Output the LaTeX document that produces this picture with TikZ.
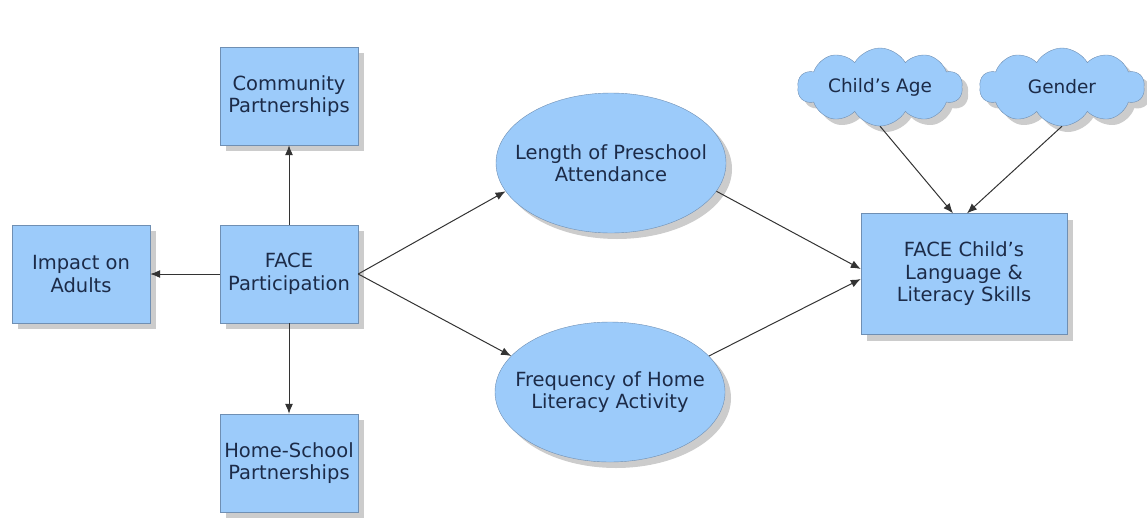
\documentclass[tikz,border=0pt]{standalone}
\usepackage{fontspec}
\setmainfont{DejaVu Sans}
\usetikzlibrary{positioning, arrows.meta, shadows}
\usetikzlibrary{shapes.geometric, shapes.symbols}

\definecolor{boxblue}{HTML}{9CCBFA}
\definecolor{boxedge}{HTML}{6F8FB3}
\definecolor{txtnavy}{HTML}{1C2B48}
\definecolor{linkgray}{HTML}{333333}

\tikzset{
  box/.style={rectangle, draw=boxedge, fill=boxblue, text=txtnavy, align=center,
    minimum width=138pt, minimum height=98pt, font=\fontsize{19.5}{22.5}\selectfont,
    drop shadow={shadow xshift=6pt, shadow yshift=-6pt, opacity=0.4}},
  oval/.style={box, ellipse, inner xsep=-30pt, inner ysep=0pt,
    minimum width=230pt, minimum height=140pt},
  puff/.style={box, cloud, cloud puffs=10, cloud puff arc=120, cloud ignores aspect,
    minimum width=165pt, minimum height=78pt, font=\fontsize{18.5}{22}\selectfont},
  link/.style={draw=linkgray, line width=1pt, -{Latex[length=10pt, width=8pt]}}
}

\begin{document}
\begin{tikzpicture}[x=1pt, y=-1pt]
                \useasboundingbox (0,0) rectangle (1147,520);

                \node[box] (comm) at (289, 96) {Community\\Partnerships};
                \node[box] (adult) at (81, 274) {Impact on\\Adults};
                \node[box] (part) at (289, 274) {FACE\\Participation};
                \node[box] (home) at (289, 463) {Home-School\\Partnerships};

                \node[oval] (len) at (611, 163) {Length of Preschool\\Attendance};
                \node[oval] (frq) at (610, 392) {Frequency of Home\\Literacy Activity};

                \node[box, minimum width=206pt, minimum height=121pt] (skill) at (964, 274) {FACE Child's\\Language \&\\Literacy Skills};
                \node[puff] (age) at (880, 87) {Child's Age};
                \node[puff] (gen) at (1062, 87) {Gender};

                \draw[link] (part) -- (comm);
                \draw[link] (part) -- (adult);
                \draw[link] (part) -- (home);
                \draw[link] (part.east) -- (len.195);
                \draw[link] (part.east) -- (frq.160);
                \draw[link] (len.-15) -- ([yshift=5pt]skill.west);
                \draw[link] (frq.20) -- ([yshift=-5pt]skill.west);
                \draw[link] (age.south) -- ([xshift=-11pt]skill.north);
                \draw[link] (gen.south) -- ([xshift=3pt]skill.north);
            \end{tikzpicture}
\end{document}
